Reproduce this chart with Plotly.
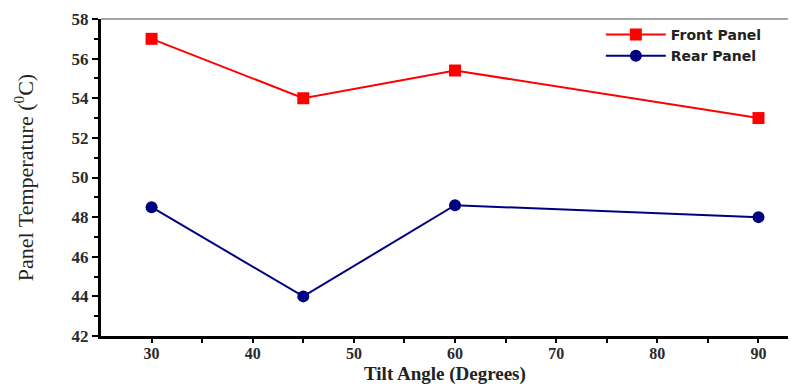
import plotly.graph_objects as go

tilt = [30, 45, 60, 90]
front = [57.0, 54.0, 55.4, 53.0]
rear = [48.5, 44.0, 48.6, 48.0]

fig = go.Figure()
fig.add_trace(go.Scatter(x=tilt, y=front, mode="lines+markers", name="Front Panel",
                         line=dict(color="#ff0000", width=2),
                         marker=dict(symbol="square", size=12, color="#ff0000")))
fig.add_trace(go.Scatter(x=tilt, y=rear, mode="lines+markers", name="Rear Panel",
                         line=dict(color="#000080", width=2),
                         marker=dict(symbol="circle", size=12, color="#000080")))

tf = dict(family="Liberation Serif", size=16, color="#2a2a2a", weight="bold")
fig.update_layout(
    width=796, height=386,
    margin=dict(l=93, r=0, t=11, b=58),
    paper_bgcolor="white", plot_bgcolor="white",
    showlegend=True,
    legend=dict(x=0.711, y=1.0, xanchor="left", yanchor="top", itemwidth=60,
                font=dict(family="DejaVu Sans", size=14, color="#222222", weight="bold"),
                bgcolor="rgba(0,0,0,0)"),
    xaxis=dict(range=[25, 94.5], tickvals=[30, 40, 50, 60, 70, 80, 90],
               ticks="outside", ticklen=4, tickwidth=2, tickcolor="black",
               ticklabelstandoff=-3,
               minor=dict(tickvals=[35, 45, 55, 65, 75, 85], ticks="outside", ticklen=4, tickwidth=2, tickcolor="black"),
               showline=True, linecolor="black", linewidth=3, mirror=False,
               showgrid=False, zeroline=False,
               tickfont=tf),
    yaxis=dict(range=[42, 58], tickvals=[42, 44, 46, 48, 50, 52, 54, 56, 58],
               ticks="outside", ticklen=6, tickwidth=2, tickcolor="black",
               minor=dict(tickvals=[43, 45, 47, 49, 51, 53, 55, 57], ticks="outside", ticklen=4, tickwidth=2, tickcolor="black"),
               showline=True, linecolor="black", linewidth=3, mirror=False,
               showgrid=False, zeroline=False,
               tickfont=dict(family="Liberation Serif", size=17, color="#2a2a2a", weight="bold"),
               title=dict(text="Panel Temperature (<sup>0</sup>C)", standoff=32,
                          font=dict(family="Liberation Serif", size=22, color="#222222"))),
)
fig.add_annotation(text="<b>Tilt Angle (Degrees)</b>", xref="paper", yref="paper",
                   x=0.49, y=0, yshift=-38, xanchor="center", yanchor="middle", showarrow=False,
                   font=dict(family="Liberation Serif", size=19, color="#222222"))
fig.add_shape(type="line", xref="paper", yref="paper", x0=0, x1=1, y0=1, y1=1,
              line=dict(color="#888888", width=1.5))
fig.write_html("out.html")
